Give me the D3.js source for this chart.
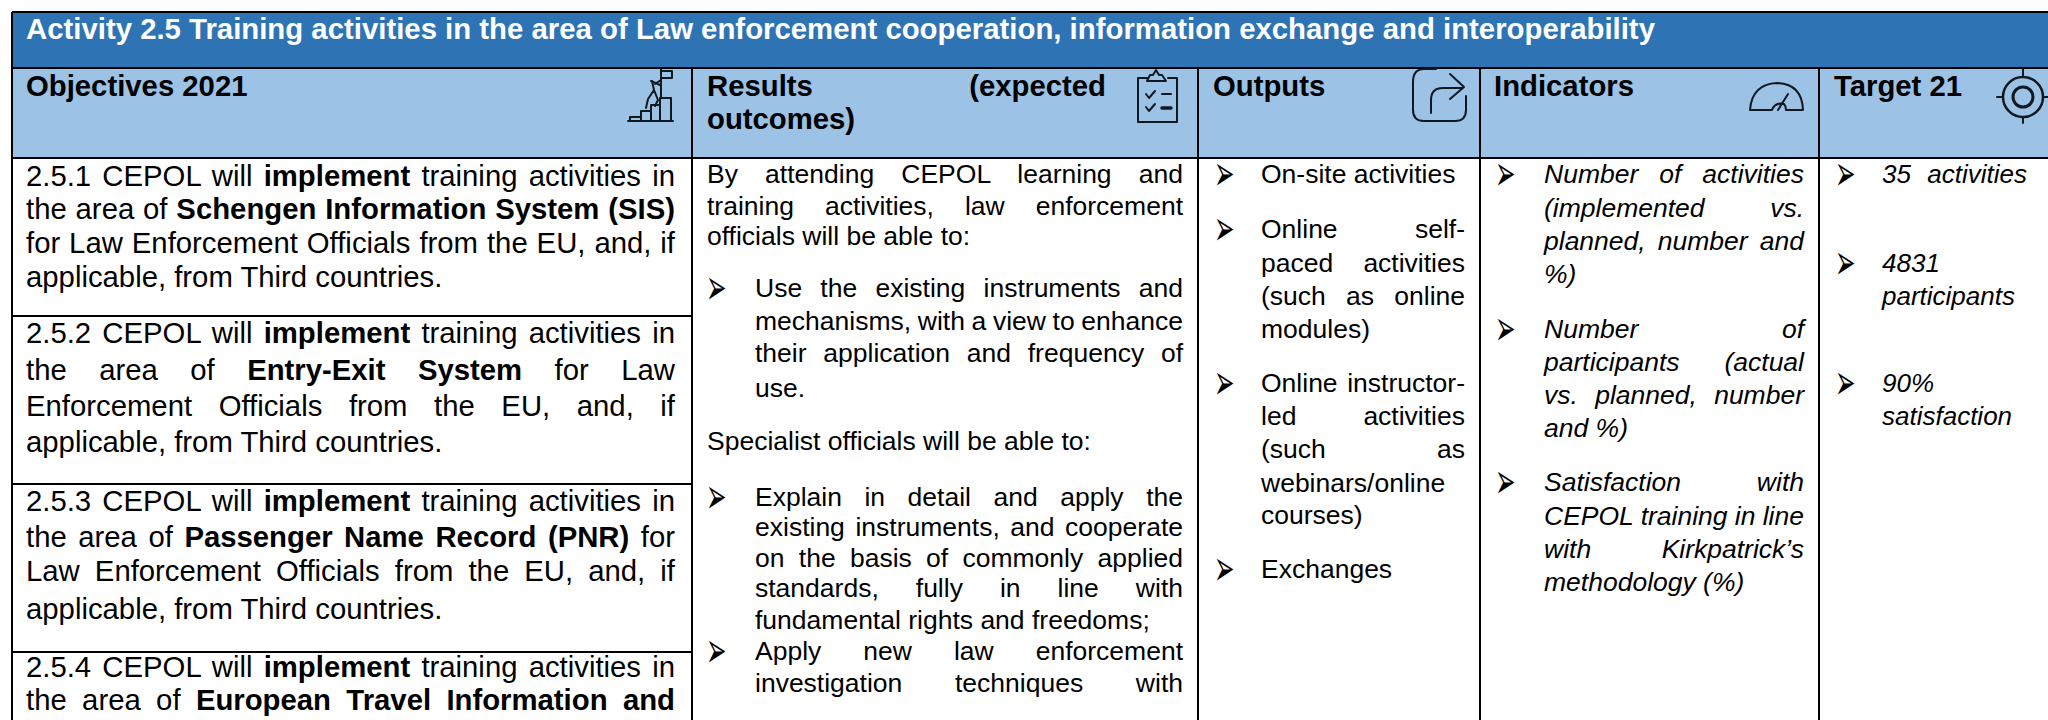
<!DOCTYPE html>
<html lang="en">
<head>
    <meta charset="UTF-8">
    <title>Activity 2.5 table</title>
    <script src="https://d3js.org/d3.v7.min.js"></script>
    <style>
        html, body { margin: 0; padding: 0; background: #fff; overflow: hidden; }
        svg { display: block; }
        text { font-family: "Liberation Sans", Arial, sans-serif; white-space: pre; }
    </style>
</head>
<body>
    <svg></svg>
    <script>
        const width = 2048;
        const height = 720;

        // table content
        const title = "Activity 2.5 Training activities in the area of Law enforcement cooperation, information exchange and interoperability";
        const columns = ["objectives", "results", "outputs", "indicators", "target"];
        const headers = [
            [{ lines: ["Objectives 2021"] }],
            [{ lines: ["Results (expected", "outcomes)"] }],
            [{ lines: ["Outputs"] }],
            [{ lines: ["Indicators"] }],
            [{ lines: ["Target 21"] }]
        ];
        const objectives = [
            { lines: ["2.5.1 CEPOL will **implement** training activities in", "the area of **Schengen Information System (SIS)**", "for Law Enforcement Officials from the EU, and, if", "applicable, from Third countries."] },
            { lines: ["2.5.2 CEPOL will **implement** training activities in", "the area of **Entry-Exit System** for Law", "Enforcement Officials from the EU, and, if", "applicable, from Third countries."] },
            { lines: ["2.5.3 CEPOL will **implement** training activities in", "the area of **Passenger Name Record (PNR)** for", "Law Enforcement Officials from the EU, and, if", "applicable, from Third countries."] },
            { lines: ["2.5.4 CEPOL will **implement** training activities in", "the area of **European Travel Information and**"], cut: true }
        ];
        const results = [
            { lines: ["By attending CEPOL learning and", "training activities, law enforcement", "officials will be able to:"] },
            { bullet: true, lines: ["Use the existing instruments and", "mechanisms, with a view to enhance", "their application and frequency of", "use."] },
            { lines: ["Specialist officials will be able to:"] },
            { bullet: true, lines: ["Explain in detail and apply the", "existing instruments, and cooperate", "on the basis of commonly applied", "standards, fully in line with", "fundamental rights and freedoms;"] },
            { bullet: true, lines: ["Apply new law enforcement", "investigation techniques with"], cut: true }
        ];
        const outputs = [
            { bullet: true, lines: ["On-site activities"] },
            { bullet: true, lines: ["Online self-", "paced activities", "(such as online", "modules)"] },
            { bullet: true, lines: ["Online instructor-", "led activities", "(such as", "webinars/online", "courses)"] },
            { bullet: true, lines: ["Exchanges"] }
        ];
        const indicators = [
            { bullet: true, italic: true, lines: ["Number of activities", "(implemented vs.", "planned, number and", "%)"] },
            { bullet: true, italic: true, lines: ["Number of", "participants (actual", "vs. planned, number", "and %)"] },
            { bullet: true, italic: true, lines: ["Satisfaction with", "CEPOL training in line", "with Kirkpatrick\u2019s", "methodology (%)"] }
        ];
        const targets = [
            { bullet: true, italic: true, cut: true, lines: ["35 activities"] },
            { bullet: true, italic: true, lines: ["4831", "participants"] },
            { bullet: true, italic: true, lines: ["90%", "satisfaction"] }
        ];

        // layout
        const tableLeft = 12, tableTop = 12, titleBottom = 68, headerBottom = 158;
        const columnLines = [692, 1198, 1480, 1819];
        const objectiveRules = [316, 484, 652];
        const textLeft = d3.scaleOrdinal(columns, [26, 707, 1215, 1496, 1836]);
        const textRight = d3.scaleOrdinal(columns, [675, 1183, 1465, 1804, 2027]);
        const bulletIndent = d3.scaleOrdinal(columns, [0, 48, 46, 48, 46]);
        const bodySize = d3.scaleOrdinal(columns, [29.3, 26.5, 26.5, 26.5, 26]);
        const baselines = {
            objectives: [186, 219, 253, 287, 343, 380, 416, 452, 511, 547, 581, 619, 677, 710],
            results: [183, 215, 245, 297, 330, 362, 397, 450, 506, 536, 567, 597, 629, 660, 692],
            outputs: [183, 238, 272, 305, 338, 392, 425, 458, 492, 524, 578],
            indicators: [183, 217, 250, 283, 338, 371, 404, 437, 491, 525, 558, 591],
            target: [183, 272, 305, 392, 425]
        };

        const svg = d3.select("svg").attr("width", width).attr("height", height);

        // header fills
        svg.append("rect").attr("x", tableLeft).attr("y", tableTop)
            .attr("width", width - tableLeft).attr("height", titleBottom - tableTop).attr("fill", "#2e74b5");
        svg.append("rect").attr("x", tableLeft).attr("y", titleBottom)
            .attr("width", width - tableLeft).attr("height", headerBottom - titleBottom).attr("fill", "#9cc2e5");

        // rules
        const rules = [
            [tableLeft, tableTop, width, tableTop],
            [tableLeft, titleBottom, width, titleBottom],
            [tableLeft, headerBottom, width, headerBottom],
            [tableLeft, tableTop, tableLeft, height],
            ...columnLines.map(x => [x, titleBottom, x, height]),
            ...objectiveRules.map(y => [tableLeft, y, columnLines[0], y])
        ];
        svg.selectAll("line.rule").data(rules).enter().append("line")
            .attr("class", "rule")
            .attr("x1", d => d[0]).attr("y1", d => d[1])
            .attr("x2", d => d[2]).attr("y2", d => d[3])
            .attr("stroke", "#000").attr("stroke-width", 2);

        // one line of text, word spaced out to the right edge when it is justified
        function drawLine(x, y, str, opts) {
            const node = svg.append("text").attr("x", x).attr("y", y)
                .attr("font-size", opts.size)
                .attr("font-weight", opts.bold ? "bold" : null)
                .attr("font-style", opts.italic ? "italic" : null)
                .attr("fill", opts.fill || "#000");
            str.split("**").forEach((part, i) => {
                if (part) node.append("tspan").attr("font-weight", i % 2 ? "bold" : null).text(part);
            });
            if (opts.right) {
                const spaces = str.split(" ").length - 1;
                const extra = opts.right - x - node.node().getComputedTextLength();
                if (spaces > 0) node.attr("word-spacing", extra / spaces);
            }
            return node;
        }

        function drawCell(col, paragraphs, ys, opts) {
            let k = 0;
            paragraphs.forEach(p => {
                p.lines.forEach((str, i) => {
                    const y = ys[k++];
                    const left = textLeft(col) + (p.bullet ? bulletIndent(col) : 0);
                    if (p.bullet && i === 0) {
                        // the glyph is wider and flatter than the one in the original
                        svg.append("text")
                            .attr("transform", `translate(${textLeft(col) - 1},${y + 7}) scale(0.72,1.45)`)
                            .attr("font-size", 34).style("font-family", "'DejaVu Sans'").text("\u27a2");
                    }
                    const justify = i < p.lines.length - 1 || p.cut;
                    drawLine(left, y, str, {
                        size: opts.size, bold: opts.bold, italic: p.italic,
                        right: justify ? textRight(col) : null
                    });
                });
            });
        }

        drawLine(26, 39, title, { size: 29.35, bold: true, fill: "#fff" });

        // column headers
        columns.forEach((col, i) => {
            const left = col === "objectives" || col === "results" ? textLeft(col) : textLeft(col) - 2;
            headers[i].forEach(p => p.lines.forEach((str, j) => {
                drawLine(left, 96 + j * 33, str, {
                    size: 29.3, bold: true,
                    right: j < p.lines.length - 1 ? 1106 : null
                });
            }));
        });

        // table body
        const bodies = [objectives, results, outputs, indicators, targets];
        columns.forEach((col, i) => {
            drawCell(col, bodies[i], baselines[col], { size: bodySize(col) });
        });

        // header icons
        const icon = svg.append("g").attr("fill", "none").attr("stroke", "#101820")
            .attr("stroke-width", 2).attr("stroke-linecap", "round").attr("stroke-linejoin", "round");
        const iconPaths = [
            // climber on the steps
            "M628 121H673M630 121V117H641V121M641 121V111H651V121M651 121V105H660V121M660 121V98H671V121",
            "M661 98V69M661 71H672V78H661M651 81L660 85M652 81L654 90L648 99L646 108M654 90L658 100L655 106M655 84L661 80",
            // clipboard
            "M1147 78H1138V122H1177V78H1168M1147 81H1166L1162 75H1159L1156 70L1153 75H1150Z",
            "M1146 94L1149 98L1155 91M1146 107L1149 111L1155 104M1162 94H1171",
            // share
            "M1436 69H1424Q1413 69 1413 82V110Q1413 121 1424 121H1455Q1466 121 1466 110V96",
            "M1431 113V100Q1431 88 1443 88H1463M1450 74L1464 87L1450 99",
            // gauge
            "M1750 110Q1752 84 1777 83Q1802 84 1803 110M1750 110H1772Q1775 102 1784 104Q1786 106 1786 110H1803M1778 110L1788 94"
        ];
        icon.selectAll("path").data(iconPaths).enter().append("path").attr("d", d => d);
        icon.append("path").attr("d", "M1162 108H1171").attr("stroke-width", 3.5);
        // target
        icon.append("circle").attr("cx", 2023).attr("cy", 97).attr("r", 20).attr("stroke-width", 2.5);
        icon.append("circle").attr("cx", 2023).attr("cy", 97).attr("r", 10).attr("stroke-width", 3);
        icon.append("path").attr("d", "M2023 69V77M2023 117V123M1997 97H2003M2043 97H2048");
    </script>
</body>
</html>
